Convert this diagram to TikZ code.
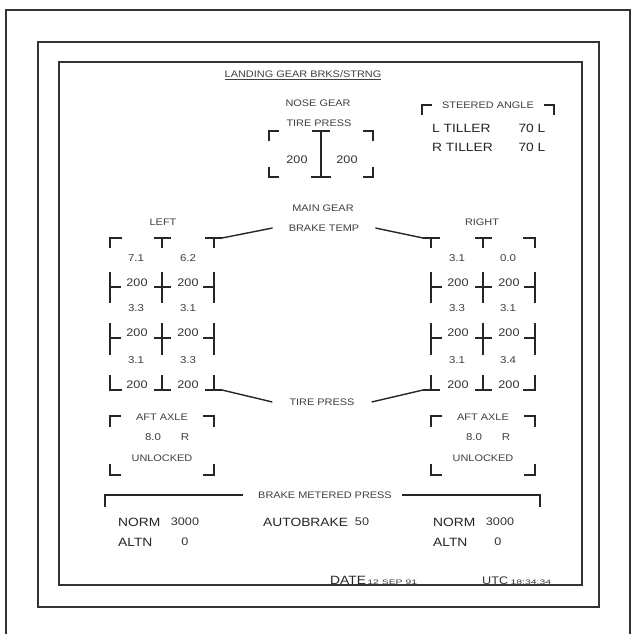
\documentclass[tikz,border=0pt]{standalone}
\usepackage{fontspec}
\newfontfamily\dispfont[FakeStretch=1.15]{Liberation Sans}
\newfontfamily\stampfont[FakeStretch=1.6]{Liberation Sans}

\begin{document}
\begin{tikzpicture}[x=1pt,y=-1pt,
	brk/.style={line width=1.7pt, black!85},
	lead/.style={line width=1.4pt, black!85},
	frame/.style={line width=1.8pt, black!80},
	lbl/.style={font=\dispfont\fontsize{9.5}{10}\selectfont, text=black!75, inner sep=0pt},
	big/.style={font=\dispfont\fontsize{12}{12}\selectfont, text=black!85, inner sep=0pt},
	num/.style={font=\dispfont\fontsize{11}{11}\selectfont, text=black!80, inner sep=0pt},
	val/.style={font=\dispfont\fontsize{10}{10}\selectfont, text=black!75, inner sep=0pt}]
	\useasboundingbox (0,0) rectangle (635,634);
	\fill[white] (0,0) rectangle (635,634);

	% frames
	\draw[frame] (6,634) -- (6,10) -- (630,10) -- (630,634);
	\draw[frame] (38,42) rectangle (599,607);
	\draw[frame, line width=1.5pt] (59,62) rectangle (582,585);

	\node[lbl] (title) at (303,75) {\underline{LANDING GEAR BRKS/STRNG}};

	% nose gear
	\node[lbl] (nose) at (318,103) {NOSE GEAR};
	\node[lbl] (ntire) at (319,123) {TIRE PRESS};
	\draw[brk] (279,131) -- (269,131) -- (269,141);
	\draw[brk] (363,131) -- (373,131) -- (373,141);
	\draw[brk] (269,167) -- (269,177) -- (279,177);
	\draw[brk] (373,167) -- (373,177) -- (363,177);
	\draw[brk] (321,131) -- (321,177);
	\draw[brk] (312,131) -- (330,131);
	\draw[brk] (311,177) -- (331,177);
	\node[num] (nleft) at (297,160) {200};
	\node[num] (nright) at (347,160) {200};

	% steered angle
	\node[lbl] (steer) at (488,105) {STEERED ANGLE};
	\coordinate (sl) at (422,105);
	\coordinate (sr) at (554,105);
	\draw[brk] ([xshift=-10pt]steer.west) -- (sl) -- ++(0,10);
	\draw[brk] ([xshift=10pt]steer.east) -- (sr) -- ++(0,10);
	\node[big, anchor=west] (ltil) at (432,128) {L TILLER};
	\node[big] (lang) at (532,128) {70 L};
	\node[big, anchor=west] (rtil) at (432,147) {R TILLER};
	\node[big] (rang) at (532,147) {70 L};

	% main gear
	\node[lbl] (main) at (323,208) {MAIN GEAR};
	\node[lbl] (btemp) at (324,228) {BRAKE TEMP};
	\node[lbl] (tpress) at (322,402) {TIRE PRESS};
	\node[lbl] (left) at (163,222) {LEFT};
	\node[lbl] (right) at (482,222) {RIGHT};

	\foreach \dx/\s in {0/l,321/r}{
	\begin{scope}[xshift=\dx]
		\draw[brk] (154,238) -- (171,238) (162,238) -- (162,248);
		\draw[brk] (162,272) -- (162,303) (154,287) -- (171,287);
		\draw[brk] (162,323) -- (162,355) (154,338) -- (171,338);
		\draw[brk] (162,375) -- (162,390) (154,390) -- (171,390);
		\draw[brk] (110,272) -- (110,303) (110,287) -- (121,287);
		\draw[brk] (110,323) -- (110,355) (110,338) -- (121,338);
		\draw[brk] (214,272) -- (214,303) (203,287) -- (214,287);
		\draw[brk] (214,323) -- (214,355) (203,338) -- (214,338);
		% aft axle
		\draw[brk] (121,416) -- (110,416) -- (110,427);
		\draw[brk] (203,416) -- (214,416) -- (214,427);
		\draw[brk] (110,464) -- (110,475) -- (121,475);
		\draw[brk] (214,464) -- (214,475) -- (203,475);
		\node[lbl] (\s axle) at (162,417) {AFT AXLE};
		\node[val] (\s deg) at (153,437) {8.0};
		\node[val] (\s side) at (185,437) {R};
		\node[lbl] (\s lock) at (162,458) {UNLOCKED};
	\end{scope}
	}

	% outer corners of the gear grids
	\draw[brk] (122,238) -- (110,238) -- (110,248);
	\draw[brk] (110,375) -- (110,390) -- (122,390);
	\coordinate (ltop) at (222,238);
	\coordinate (lbot) at (222,390);
	\draw[brk] (205,238) -- (ltop) (214,238) -- (214,248);
	\draw[brk] (205,390) -- (lbot) (214,375) -- (214,390);
	\coordinate (rtop) at (423,238);
	\coordinate (rbot) at (423,390);
	\draw[brk] (rtop) -- (440,238) (431,238) -- (431,248);
	\draw[brk] (rbot) -- (440,390) (431,375) -- (431,390);
	\draw[brk] (523,238) -- (535,238) -- (535,248);
	\draw[brk] (535,375) -- (535,390) -- (523,390);

	\draw[lead] (ltop) -- ([xshift=-16pt]btemp.west);
	\draw[lead] (rtop) -- ([xshift=16pt]btemp.east);
	\draw[lead] (lbot) -- ([xshift=-17pt]tpress.west);
	\draw[lead] (rbot) -- ([xshift=17pt]tpress.east);

	% temperatures and pressures
	\foreach \y/\a/\b/\c/\d [count=\i] in {258/7.1/6.2/3.1/0.0, 308/3.3/3.1/3.3/3.1, 360/3.1/3.3/3.1/3.4}{
		\node[val] (lt\i) at (136,\y) {\a};
		\node[val] (lu\i) at (188,\y) {\b};
		\node[val] (rt\i) at (457,\y) {\c};
		\node[val] (ru\i) at (508,\y) {\d};
	}
	\foreach \y [count=\i] in {283,333,385}{
		\node[num] (lp\i) at (137,\y) {200};
		\node[num] (lq\i) at (188,\y) {200};
		\node[num] (rp\i) at (458,\y) {200};
		\node[num] (rq\i) at (509,\y) {200};
	}

	% brake metered press
	\node[lbl] (bmp) at (325,495) {BRAKE METERED PRESS};
	\coordinate (bl) at (105,495);
	\coordinate (br) at (540,495);
	\draw[lead] ([xshift=-15pt]bmp.west) -- (bl) -- ++(0,12);
	\draw[lead] ([xshift=10pt]bmp.east) -- (br) -- ++(0,12);
	\node[big, anchor=west] (lnorm) at (118,522) {NORM};
	\node[num] (lnval) at (185,522) {3000};
	\node[big, anchor=west] (laltn) at (118,542) {ALTN};
	\node[num] (laval) at (185,542) {0};
	\node[big, anchor=west] (abrk) at (263,522) {AUTOBRAKE};
	\node[num] (abval) at (362,522) {50};
	\node[big, anchor=west] (rnorm) at (433,522) {NORM};
	\node[num] (rnval) at (500,522) {3000};
	\node[big, anchor=west] (raltn) at (433,542) {ALTN};
	\node[num] (raval) at (498,542) {0};

	% date and time
	\node[big, anchor=base west] (date) at (330,584) {DATE};
	\node[font=\stampfont\fontsize{6.5}{6.5}\selectfont, text=black!80, inner sep=0pt, anchor=base west] (dval) at ([xshift=1pt]date.base east) {12 SEP 91};
	\node[num, anchor=base west] (utc) at (482,584) {UTC};
	\node[font=\stampfont\fontsize{6.5}{6.5}\selectfont, text=black!80, inner sep=0pt, anchor=base west] (uval) at ([xshift=2pt]utc.base east) {18:34:34};
\end{tikzpicture}
\end{document}
